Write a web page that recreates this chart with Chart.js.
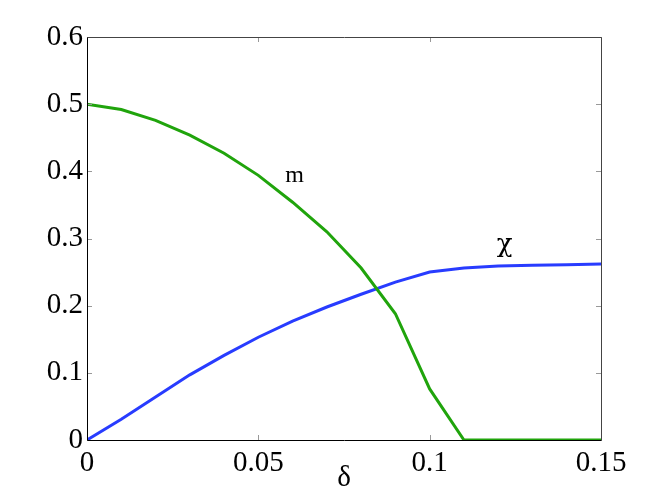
<!DOCTYPE html>
<html>
<head>
<meta charset="utf-8">
<script src="https://cdn.jsdelivr.net/npm/chart.js@4.4.1/dist/chart.umd.min.js"></script>
<style>
  html, body { margin: 0; padding: 0; background: #fff; }
  #wrap { width: 664px; height: 496px; }
</style>
</head>
<body>
<div id="wrap"><canvas id="c" width="664" height="496"></canvas></div>
<script>
// ---- data ----
const deltaValues = [0, 0.01, 0.02, 0.03, 0.04, 0.05, 0.06, 0.07, 0.08, 0.09, 0.10, 0.11, 0.12, 0.13, 0.14, 0.15];
const mValues     = [0.500, 0.492, 0.476, 0.454, 0.427, 0.394, 0.354, 0.310, 0.256, 0.188, 0.076, 0.000, 0.000, 0.000, 0.000, 0.000];
const chiValues   = [0.000, 0.031, 0.064, 0.097, 0.126, 0.153, 0.177, 0.198, 0.217, 0.235, 0.250, 0.256, 0.259, 0.260, 0.261, 0.262];
const xTicks = [0, 0.05, 0.1, 0.15];
const xTickLabels = ['0', '0.05', '0.1', '0.15'];
const yTicks = [0, 0.1, 0.2, 0.3, 0.4, 0.5, 0.6];
const yTickLabels = ['0', '0.1', '0.2', '0.3', '0.4', '0.5', '0.6'];
const xTitle = 'δ';
const curveLabels = [
  { text: 'm', x: 0.0606, y: 0.394, font: '24px "Liberation Serif", serif' },
  { text: 'χ', x: 0.1219, y: 0.290, font: '26px "DejaVu Serif", serif' }
];

const GREEN = 'rgb(32,164,12)';
const BLUE = 'rgb(40,60,255)';
const SERIF = '"Liberation Serif", "DejaVu Serif", serif';

const toPts = (ys) => deltaValues.map((x, i) => ({ x: x, y: ys[i] }));

const framePlugin = {
  id: 'frame',
  afterDatasetsDraw(chart) {
    const { ctx, chartArea: a, scales } = chart;
    ctx.save();
    // ticks pointing inward
    ctx.strokeStyle = '#999';
    ctx.lineWidth = 1;
    const L = 5;
    xTicks.forEach(v => {
      const px = Math.round(scales.x.getPixelForValue(v)) + 0.5;
      ctx.beginPath();
      ctx.moveTo(px, a.bottom); ctx.lineTo(px, a.bottom - L);
      ctx.moveTo(px, a.top); ctx.lineTo(px, a.top + L);
      ctx.stroke();
    });
    yTicks.forEach(v => {
      const py = Math.round(scales.y.getPixelForValue(v)) + 0.5;
      ctx.beginPath();
      ctx.moveTo(a.left, py); ctx.lineTo(a.left + L, py);
      ctx.moveTo(a.right, py); ctx.lineTo(a.right - L, py);
      ctx.stroke();
    });
    // box
    ctx.lineWidth = 1;
    ctx.strokeStyle = '#444';
    ctx.beginPath();
    ctx.moveTo(Math.round(a.left) + 0.5, Math.round(a.top) + 0.5);
    ctx.lineTo(Math.round(a.right) + 0.5, Math.round(a.top) + 0.5);
    ctx.lineTo(Math.round(a.right) + 0.5, Math.round(a.bottom) + 0.5);
    ctx.stroke();
    ctx.strokeStyle = '#000';
    ctx.beginPath();
    ctx.moveTo(Math.round(a.left) + 0.5, Math.round(a.top) + 0.5);
    ctx.lineTo(Math.round(a.left) + 0.5, Math.round(a.bottom) + 0.5);
    ctx.lineTo(Math.round(a.right) + 0.5, Math.round(a.bottom) + 0.5);
    ctx.stroke();
    // curve labels
    ctx.fillStyle = '#000';
    ctx.textAlign = 'center';
    ctx.textBaseline = 'middle';
    curveLabels.forEach(l => {
      ctx.font = l.font;
      ctx.fillText(l.text, scales.x.getPixelForValue(l.x), scales.y.getPixelForValue(l.y));
    });
    ctx.restore();
  }
};

new Chart(document.getElementById('c'), {
  type: 'line',
  data: {
    datasets: [
      { label: 'm', data: toPts(mValues), borderColor: GREEN, borderWidth: 3, pointRadius: 0, fill: false, tension: 0 },
      { label: 'χ', data: toPts(chiValues), borderColor: BLUE, borderWidth: 3, pointRadius: 0, fill: false, tension: 0 }
    ]
  },
  options: {
    responsive: false,
    animation: false,
    devicePixelRatio: 1,
    layout: { padding: { top: 37, right: 63, left: 0, bottom: 0 } },
    plugins: { legend: { display: false }, tooltip: { enabled: false } },
    scales: {
      x: {
        type: 'linear', min: 0, max: 0.15,
        afterBuildTicks: (s) => { s.ticks = xTicks.map(v => ({ value: v })); },
        afterFit: (s) => { s.height = 56; },
        grid: { display: false, drawTicks: false },
        border: { display: false },
        ticks: {
          padding: 6,
          color: '#000',
          font: { family: SERIF, size: 29 },
          maxRotation: 0,
          callback: (v) => { const i = xTicks.findIndex(t => Math.abs(t - v) < 1e-9); return i >= 0 ? xTickLabels[i] : ''; }
        },
        title: { display: true, text: xTitle, color: '#000', font: { family: SERIF, size: 29 }, padding: { top: -6, bottom: 0 } }
      },
      y: {
        type: 'linear', min: 0, max: 0.6,
        afterBuildTicks: (s) => { s.ticks = yTicks.map(v => ({ value: v })); },
        afterFit: (s) => { s.width = 87; },
        grid: { display: false, drawTicks: false },
        border: { display: false },
        ticks: {
          padding: 4,
          color: '#000',
          font: { family: SERIF, size: 29 },
          callback: (v) => { const i = yTicks.findIndex(t => Math.abs(t - v) < 1e-9); return i >= 0 ? yTickLabels[i] : ''; }
        }
      }
    }
  },
  plugins: [framePlugin]
});
</script>
</body>
</html>
